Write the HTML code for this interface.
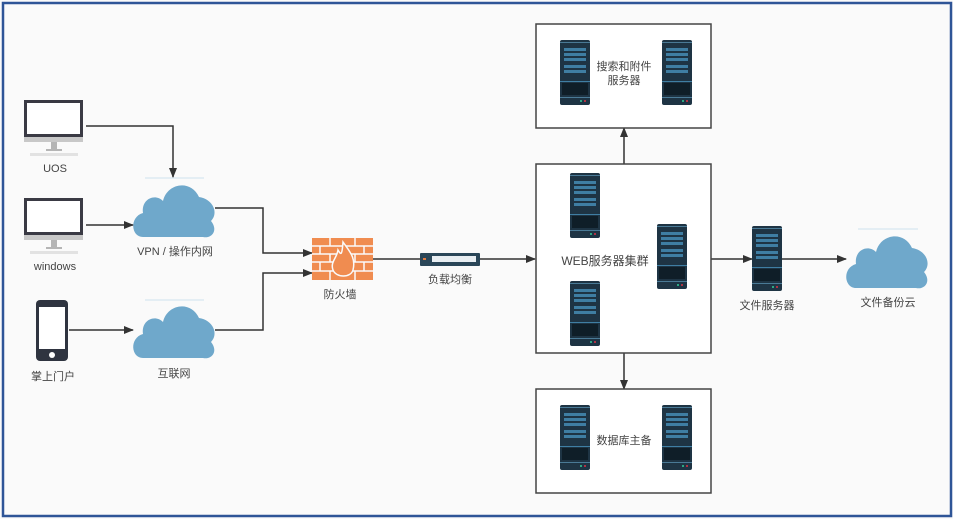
<!DOCTYPE html>
<html><head><meta charset="utf-8"><style>
html,body{margin:0;padding:0;background:#fafafa}
svg{display:block}
text{font-family:"Liberation Sans","Noto Sans CJK SC",sans-serif;font-size:11px;fill:#444;text-anchor:middle}
</style></head><body>
<svg width="953" height="519" viewBox="0 0 953 519" xmlns="http://www.w3.org/2000/svg">
<defs>
<marker id="ar" markerWidth="10" markerHeight="8" refX="9" refY="4" orient="auto" markerUnits="userSpaceOnUse">
<path d="M0,0 L10,4 L0,8 z" fill="#333"/></marker>
<g id="srv">
<rect x="0" y="0" width="30" height="65" rx="2" fill="#1e3444"/>
<rect x="0" y="2" width="30" height="1" fill="#4a7a96"/>
<rect x="4" y="8" width="22" height="3" fill="#3f7ea3"/>
<rect x="4" y="13" width="22" height="3" fill="#3f7ea3"/>
<rect x="4" y="18" width="22" height="3" fill="#3f7ea3"/>
<rect x="4" y="25" width="22" height="3" fill="#3f7ea3"/>
<rect x="4" y="30" width="22" height="3" fill="#3f7ea3"/>
<rect x="0" y="41" width="30" height="1" fill="#3f7ea3"/>
<rect x="2" y="43" width="26" height="12" fill="#0f1e28"/>
<rect x="0" y="57" width="30" height="1" fill="#4a7a96"/>
<circle cx="21" cy="61" r="1" fill="#3c9"/><circle cx="25" cy="61" r="1" fill="#d34"/>
</g>
<g id="mon">
<rect x="0" y="0" width="59" height="37" fill="#3a3a44"/>
<rect x="3" y="3" width="53" height="31" fill="#fff"/>
<rect x="0" y="37" width="59" height="5" fill="#c8c8c8"/>
<rect x="27" y="42" width="6" height="8" fill="#b5b5b5"/>
<rect x="22" y="49" width="16" height="2" fill="#b5b5b5"/>
<rect x="6" y="53" width="48" height="3" fill="#e2e2e2"/>
</g>
<g id="cloud">
<path d="M10,58 C-2,58 -4,38 10,34 C8,20 22,14 30,22 C34,4 58,0 66,18 C80,20 86,34 78,42 C86,52 78,60 70,58 Z" fill="#6fa8cb"/>
</g>
</defs>
<rect x="3" y="3" width="948" height="513" fill="#fafafa" stroke="#2f5597" stroke-width="2.5"/>

<!-- left devices -->
<use href="#mon" x="24" y="100"/>
<text x="55" y="172">UOS</text>
<use href="#mon" x="24" y="198"/>
<text x="55" y="270">windows</text>
<rect x="36" y="300" width="32" height="61" rx="4" fill="#2f3440"/>
<rect x="39" y="307" width="26" height="42" fill="#fff"/>
<circle cx="52" cy="355" r="3" fill="#fff"/>
<text x="53" y="380">掌上门户</text>

<use href="#cloud" x="133" y="179"/>
<line x1="145" y1="178" x2="204" y2="178" stroke="#cfe2ee"/>
<text x="175" y="255">VPN / 操作内网</text>
<use href="#cloud" x="133" y="300"/>
<line x1="145" y1="300" x2="204" y2="300" stroke="#cfe2ee"/>
<text x="174" y="377">互联网</text>

<g fill="none" stroke="#333" stroke-width="1.5">
<path d="M86,126 H173 V177" marker-end="url(#ar)"/>
<path d="M86,225 H133" marker-end="url(#ar)"/>
<path d="M69,330 H133" marker-end="url(#ar)"/>
<path d="M215,208 H263 V253 H312" marker-end="url(#ar)"/>
<path d="M215,330 H263 V273 H312" marker-end="url(#ar)"/>
<path d="M373,259 H420"/>
<path d="M480,259 H535" marker-end="url(#ar)"/>
<path d="M624,164 V128" marker-end="url(#ar)"/>
<path d="M624,353 V389" marker-end="url(#ar)"/>
<path d="M711,259 H752" marker-end="url(#ar)"/>
<path d="M782,259 H846" marker-end="url(#ar)"/>
</g>

<!-- firewall -->
<g fill="#f08c50">
<rect x="312" y="238" width="61" height="42"/>
</g>
<g stroke="#fafafa" stroke-width="1.5">
<line x1="312" y1="246" x2="373" y2="246"/><line x1="312" y1="254" x2="373" y2="254"/>
<line x1="312" y1="262" x2="373" y2="262"/><line x1="312" y1="271" x2="373" y2="271"/>
<line x1="330" y1="238" x2="330" y2="246"/><line x1="355" y1="238" x2="355" y2="246"/>
<line x1="320" y1="246" x2="320" y2="254"/><line x1="364" y1="246" x2="364" y2="254"/>
<line x1="330" y1="254" x2="330" y2="262"/><line x1="355" y1="254" x2="355" y2="262"/>
<line x1="320" y1="262" x2="320" y2="271"/><line x1="364" y1="262" x2="364" y2="271"/>
<line x1="330" y1="271" x2="330" y2="280"/><line x1="355" y1="271" x2="355" y2="280"/>
</g>
<path d="M343,242 C350,252 356,258 353,270 C351,278 336,278 333,270 C330,262 337,258 338,250 C341,255 342,256 343,242 Z" fill="#f08c50" stroke="#fafafa" stroke-width="1.5"/>
<text x="340" y="298">防火墙</text>

<!-- load balancer -->
<rect x="420" y="253" width="60" height="13" rx="1" fill="#2a4658"/>
<rect x="432" y="256" width="44" height="6" fill="#e8eef2"/>
<rect x="423" y="258" width="3" height="2" fill="#e07a40"/>
<text x="450" y="283">负载均衡</text>

<!-- boxes -->
<rect x="536" y="24" width="175" height="104" fill="#fff" stroke="#444" stroke-width="1.5"/>
<use href="#srv" x="560" y="40"/><use href="#srv" x="662" y="40"/>
<text x="624" y="70">搜索和附件</text><text x="624" y="84">服务器</text>

<rect x="536" y="164" width="175" height="189" fill="#fff" stroke="#444" stroke-width="1.5"/>
<use href="#srv" x="570" y="173"/><use href="#srv" x="570" y="281"/><use href="#srv" x="657" y="224"/>
<text x="605" y="265" style="font-size:12px">WEB服务器集群</text>

<rect x="536" y="389" width="175" height="104" fill="#fff" stroke="#444" stroke-width="1.5"/>
<use href="#srv" x="560" y="405"/><use href="#srv" x="662" y="405"/>
<text x="624" y="444">数据库主备</text>

<use href="#srv" x="752" y="226"/>
<text x="767" y="309">文件服务器</text>
<use href="#cloud" x="846" y="230"/>
<line x1="858" y1="229" x2="918" y2="229" stroke="#cfe2ee"/>
<text x="888" y="306">文件备份云</text>
</svg>
</body></html>
